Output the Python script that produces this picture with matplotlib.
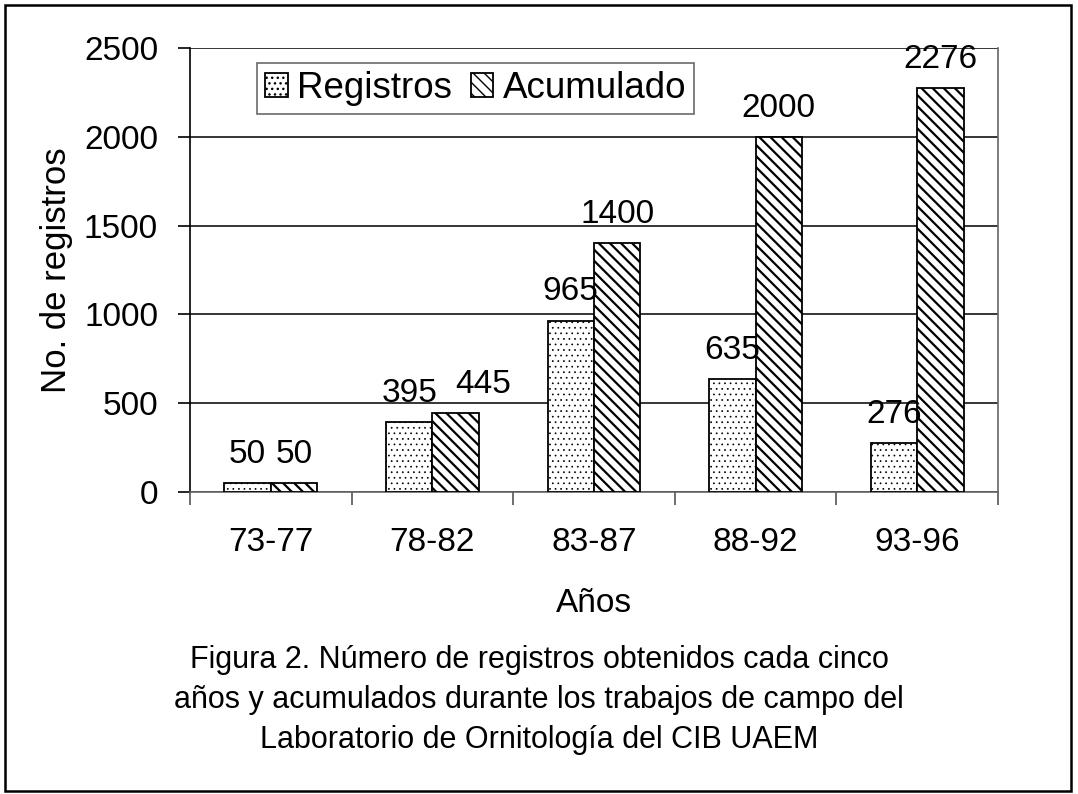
import matplotlib
matplotlib.use("Agg")
import matplotlib.pyplot as plt
from matplotlib.patches import Rectangle
import numpy as np

categories = ["73-77", "78-82", "83-87", "88-92", "93-96"]
registros = [50, 395, 965, 635, 276]
acumulado = [50, 445, 1400, 2000, 2276]
series_names = ["Registros", "Acumulado"]
y_ticks = [0, 500, 1000, 1500, 2000, 2500]
caption = ("Figura 2. Número de registros obtenidos cada cinco\n"
           "años y acumulados durante los trabajos de campo del\n"
           "Laboratorio de Ornitología del CIB UAEM")

plt.rcParams['font.family'] = ['Liberation Sans', 'DejaVu Sans']
FS = 24

fig = plt.figure(figsize=(10.78, 7.94), dpi=100)
ax = fig.add_axes([190/1078, 1-492/794, 808/1078, 444/794])

x = np.arange(len(categories))
w = 0.287

with plt.rc_context({'hatch.linewidth': 0.5, 'hatch.color': 'black'}):
    b1 = ax.bar(x - w/2, registros, w, facecolor='white', edgecolor='black',
                linewidth=1.3, hatch='...', zorder=3, label=series_names[0])
with plt.rc_context({'hatch.linewidth': 1.6, 'hatch.color': 'black'}):
    b2 = ax.bar(x + w/2, acumulado, w, facecolor='white', edgecolor='black',
                linewidth=1.3, hatch='\\\\\\', zorder=3, label=series_names[1])

ax.set_xlim(-0.5, len(categories) - 0.5)
ax.set_ylim(0, 2500)
ax.set_yticks(y_ticks)
ax.set_yticklabels([str(t) for t in y_ticks], fontsize=FS)
ax.set_xticks(x)
ax.set_xticklabels(categories, fontsize=FS)
ax.set_xticks(np.arange(len(categories) + 1) - 0.5, minor=True)
ax.tick_params(axis='x', which='major', length=0, pad=25)
ax.tick_params(axis='x', which='minor', length=9, width=1.2, color='#555555')
ax.tick_params(axis='y', length=9, width=1.2, pad=14)

ax.yaxis.grid(True, color='black', linewidth=1.1, zorder=0)
ax.set_axisbelow(True)
ax.spines['top'].set_visible(False)
ax.spines['right'].set_color('#666666')
ax.spines['bottom'].set_color('#666666')
ax.spines['left'].set_color('black')
for s in ax.spines.values():
    s.set_linewidth(1.2)

ax.set_ylabel("No. de registros", fontsize=25, labelpad=8)
ax.set_xlabel("Años", fontsize=FS, labelpad=22)

# data labels
xoff_acc = [0, 20, 0, 0, 0]
for xi, v in zip(x, registros):
    ax.annotate(str(v), (xi - w/2, v), xytext=(0, 14.5), textcoords='offset points',
                ha='center', va='baseline', fontsize=FS, zorder=5)
for xi, v, dx in zip(x, acumulado, xoff_acc):
    ax.annotate(str(v), (xi + w/2, v), xytext=(dx, 14.5), textcoords='offset points',
                ha='center', va='baseline', fontsize=FS, zorder=5)

leg = ax.legend(loc='upper left', bbox_to_anchor=(0.083, 0.966), ncol=2,
                fontsize=26.5, frameon=True, fancybox=False, handlelength=0.62,
                handleheight=0.62, handletextpad=0.25, columnspacing=0.5,
                borderpad=0.22, borderaxespad=0)
leg.get_frame().set_edgecolor('#444444')
leg.get_frame().set_linewidth(1.2)

fig.text(0.5, 1 - 700/794, caption, ha='center', va='center', fontsize=22,
         linespacing=1.42)

fig.patches.append(Rectangle((5/1078, 3/794), 1066/1078, 786/794,
                             transform=fig.transFigure, fill=False,
                             edgecolor='black', linewidth=1.8))

fig.savefig("out.png", dpi=100)
